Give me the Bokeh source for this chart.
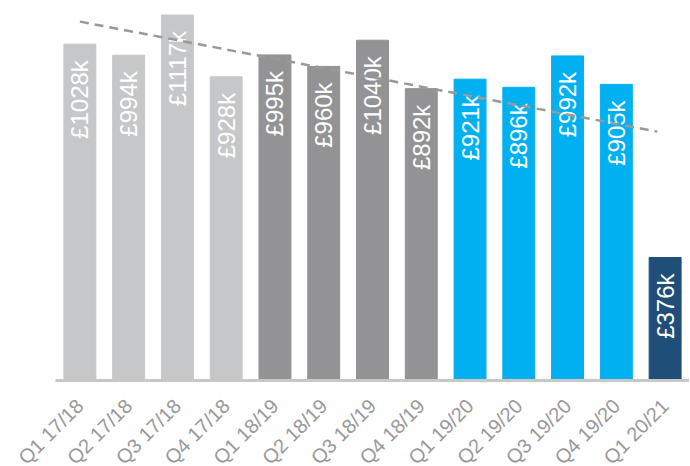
import math
import numpy as np
from bokeh.plotting import figure
from bokeh.models import ColumnDataSource, Range1d
from bokeh.core.properties import value
from bokeh.embed import file_html
from bokeh.resources import INLINE

# ---- data ----
quarters = ["Q1 17/18", "Q2 17/18", "Q3 17/18", "Q4 17/18",
            "Q1 18/19", "Q2 18/19", "Q3 18/19", "Q4 18/19",
            "Q1 19/20", "Q2 19/20", "Q3 19/20", "Q4 19/20",
            "Q1 20/21"]
values_k = [1028, 994, 1117, 928, 995, 960, 1040, 892, 921, 896, 992, 905, 376]
trend_end_index = 12.84  # trendline drawn from period 1 to this (1-based) period

# ---- styles ----
year_colors = {"17/18": "#c6c7c9", "18/19": "#939395", "19/20": "#00b0f0", "20/21": "#1f4e79"}
colors = [year_colors[q.split(" ")[1]] for q in quarters]
labels = ["£%dk" % v for v in values_k]

FONT = "Liberation Sans"
W, H, TOP = 689, 466, 8
LEFT = 55            # left edge of the category band (px)
BASE = 380           # baseline position (px from top)
n = len(quarters)
cat_px = (W - LEFT) / n
px_per_k = 0.3272

xpos = np.arange(n) + 0.5
src = ColumnDataSource(dict(x=xpos, v=values_k, c=colors, lab=labels,
                            q=quarters, zero=np.zeros(n)))

p = figure(x_range=Range1d(-LEFT / cat_px, n),
           y_range=Range1d(-(H - BASE) / px_per_k, (BASE - TOP) / px_per_k),
           width=W, height=H,
           output_backend="svg", toolbar_location=None,
           x_axis_location=None, y_axis_location=None,
           min_border_left=0, min_border_right=0, min_border_top=TOP,
           min_border_bottom=0)
p.outline_line_color = None
p.background_fill_color = None
p.border_fill_color = None
p.grid.visible = False

p.vbar(x="x", top="v", bottom=0, width=0.655, color="c", source=src)

p.text(x="x", y="v", text="lab", source=src, angle=math.pi / 2,
       text_align="right", text_baseline="middle", y_offset=16,
       text_color="white", text_font=value(FONT), text_font_size="24px")

# linear trendline over all periods (computed from the data)
idx = np.arange(1, n + 1)
slope, intercept = np.polyfit(idx, values_k, 1)
tx = np.array([1.0, trend_end_index])
ty = slope * tx + intercept
p.line(x=tx - 0.5, y=ty, line_color="#999999", line_width=2.5, line_dash="9 6")

# baseline (category axis line) across the category band
p.segment(x0=[0], y0=[0], x1=[n], y1=[0], line_color="#c8c8c8", line_width=3,
          line_cap="butt")

# rotated category labels below the baseline
p.text(x="x", y="zero", text="q", source=src, angle=math.pi / 4,
       text_align="right", text_baseline="middle", x_offset=0, y_offset=22,
       text_color="#999999", text_font=value(FONT), text_font_size="20px")

open("out.html", "w").write(file_html(p, INLINE))
